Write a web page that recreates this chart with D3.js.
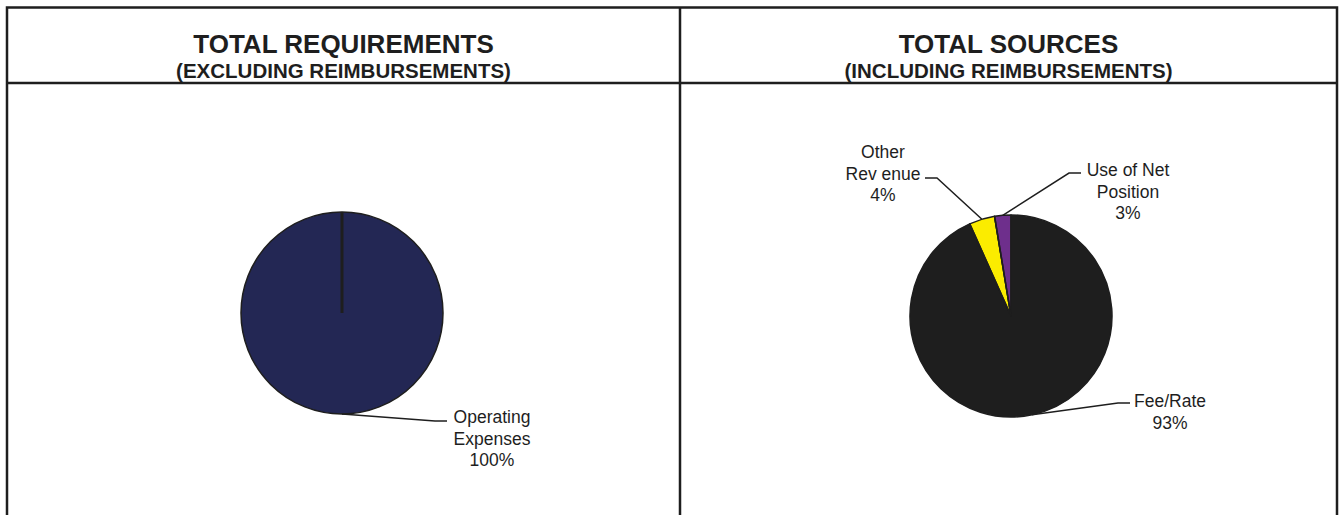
<!DOCTYPE html>
<html>
<head>
<meta charset="utf-8">
<script src="https://cdn.jsdelivr.net/npm/d3@7"></script>
<style>
  body { margin: 0; background: #fff; }
  text { font-family: "Liberation Sans", Arial, sans-serif; fill: #1e1e1e; }
</style>
</head>
<body>
<div id="chart"></div>
<script>
// === DATA ===
const reqLabels = ["Operating Expenses"];
const reqValues = [100];
const srcLabels = ["Fee/Rate", "Other Revenue", "Use of Net Position"];
const srcValues = [93.3, 4.1, 2.6];
const titles = ["TOTAL REQUIREMENTS", "TOTAL SOURCES"];
const subtitles = ["(EXCLUDING REIMBURSEMENTS)", "(INCLUDING REIMBURSEMENTS)"];

// label text lines as printed in the chart
const reqText = [["Operating", "Expenses", "100%"]];
const srcText = [["Fee/Rate", "93%"], ["Other", "Rev enue", "4%"], ["Use of Net", "Position", "3%"]];

const W = 1340, H = 515;
const svg = d3.select("#chart").append("svg").attr("width", W).attr("height", H);

// frame
const frameL = 7, frameM = 680, frameR = 1337, frameT = 7.5, headB = 83;
const frame = svg.append("g").attr("stroke", "#1e1e1e").attr("stroke-width", 2.5).attr("fill", "none");
frame.append("path").attr("d", `M${frameL},${H} V${frameT} H${frameR} V${H}`);
frame.append("line").attr("x1", frameM).attr("x2", frameM).attr("y1", frameT).attr("y2", H);
frame.append("line").attr("x1", frameL).attr("x2", frameR).attr("y1", headB).attr("y2", headB);

// titles
[[frameL, frameM], [frameM, frameR]].forEach(([a, b], i) => {
  const cx = (a + b) / 2;
  svg.append("text").attr("x", cx).attr("y", 53).attr("text-anchor", "middle")
    .style("font-size", "26px").style("font-weight", "bold").text(titles[i]);
  svg.append("text").attr("x", cx).attr("y", 78).attr("text-anchor", "middle")
    .style("font-size", "20.5px").style("font-weight", "bold").text(subtitles[i]);
});

const R = 101;
const arc = d3.arc().innerRadius(0).outerRadius(R);
const pie = d3.pie().sort(null).value(d => d);

function drawPie(cx, cy, values, colors, textLines, labelPos, edgeWidth) {
  const g = svg.append("g").attr("transform", `translate(${cx},${cy})`);
  const arcs = pie(values);

  g.selectAll("path.slice")
    .data(arcs)
    .join("path")
      .attr("class", "slice")
      .attr("d", arc)
      .attr("fill", (d, i) => colors[i])
      .attr("stroke", "#1e1e1e")
      .attr("stroke-width", 1.5)
      .attr("stroke-linejoin", "round");

  // slice edges (radius line at the start of each slice)
  g.selectAll("line.edge")
    .data(arcs)
    .join("line")
      .attr("class", "edge")
      .attr("x1", 0).attr("y1", 0)
      .attr("x2", d => R * Math.sin(d.startAngle))
      .attr("y2", d => -R * Math.cos(d.startAngle))
      .attr("stroke", "#1e1e1e")
      .attr("stroke-width", edgeWidth);

  // leader lines + labels
  arcs.forEach((d, i) => {
    const a = (d.startAngle + d.endAngle) / 2;
    const p0 = [R * Math.sin(a), -R * Math.cos(a)];
    const lp = labelPos[i];
    const elbow = [lp.ax + (lp.side === "right" ? -12 : 12), lp.ay];
    g.append("polyline")
      .attr("points", [p0, elbow, [lp.ax, lp.ay]].map(p => p.join(",")).join(" "))
      .attr("fill", "none").attr("stroke", "#1e1e1e").attr("stroke-width", 1.5);
    const t = g.append("text").attr("text-anchor", "middle").style("font-size", "17.5px");
    textLines[i].forEach((s, j) => {
      t.append("tspan").attr("x", lp.tx).attr("y", lp.ty + j * 21.5).text(s);
    });
  });
}

drawPie(342, 313, reqValues, ["#232754"], reqText,
  [{ ax: 105, ay: 108, side: "right", tx: 150, ty: 110 }], 3);

drawPie(1011, 316, srcValues, ["#1e1e1e", "#fbec00", "#6e2f8c"], srcText,
  [
    { ax: 119, ay: 87, side: "right", tx: 159, ty: 91 },
    { ax: -86, ay: -138, side: "left", tx: -128, ty: -158 },
    { ax: 70, ay: -143, side: "right", tx: 117, ty: -140 }
  ], 1.5);
</script>
</body>
</html>
